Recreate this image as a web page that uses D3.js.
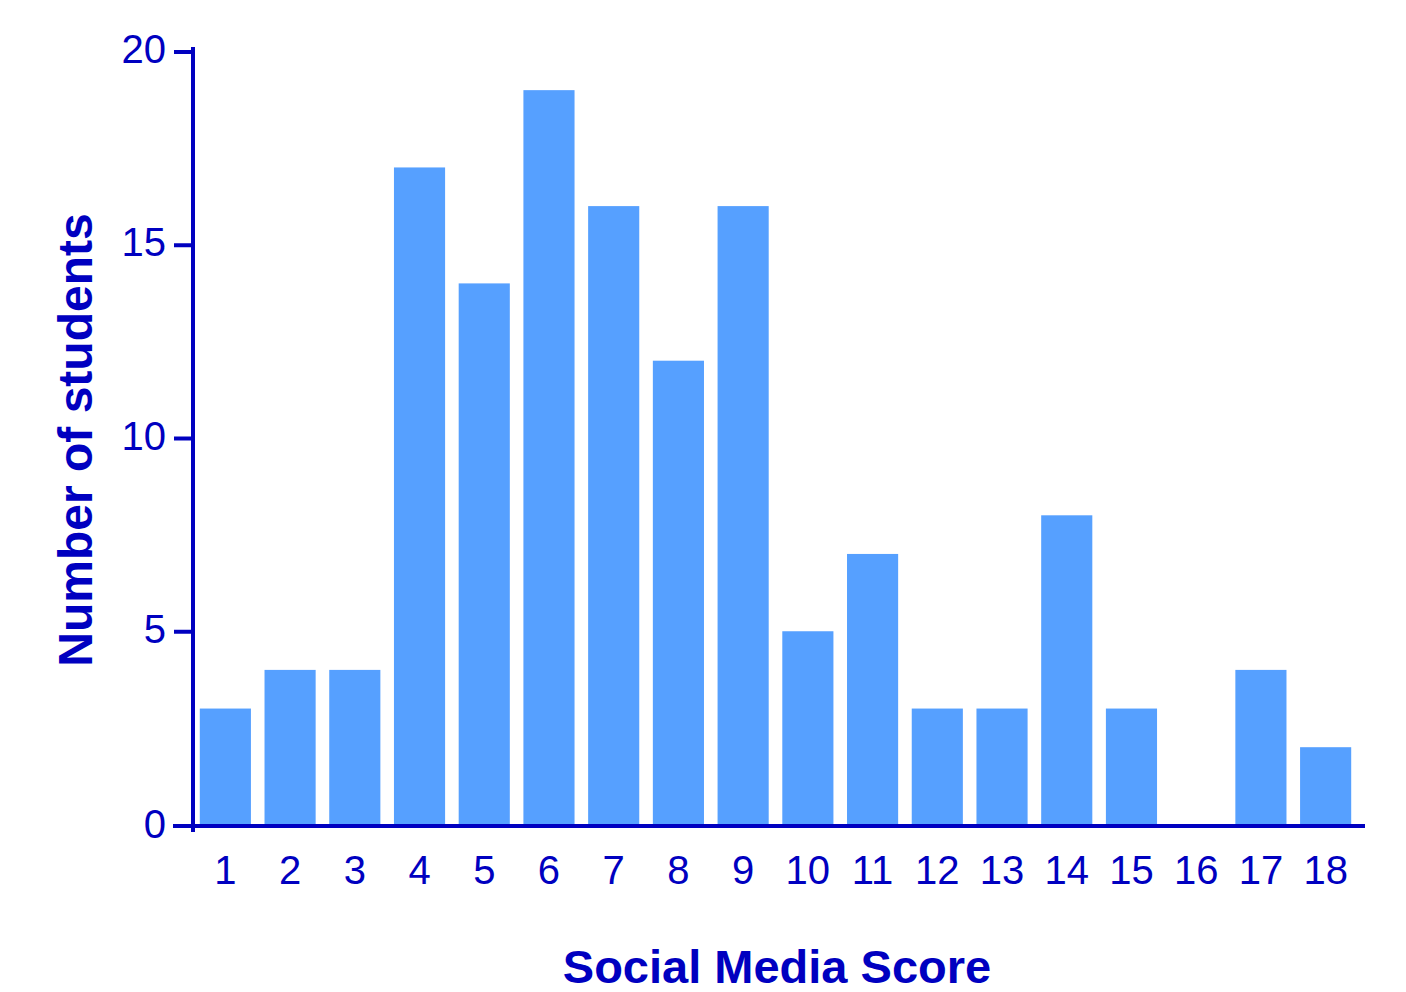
<!DOCTYPE html>
<html>
<head>
<meta charset="utf-8">
<script src="https://cdn.jsdelivr.net/npm/d3@7"></script>
<style>
  html, body { margin: 0; padding: 0; background: #fff; }
  svg { display: block; }
</style>
</head>
<body>
<svg id="chart" width="1406" height="992"></svg>
<script>
const categories = ["1","2","3","4","5","6","7","8","9","10","11","12","13","14","15","16","17","18"];
const counts = [3, 4, 4, 17, 14, 19, 16, 12, 16, 5, 7, 3, 3, 8, 3, 0, 4, 2];
const yTicks = [0, 5, 10, 15, 20];
const xTitle = "Social Media Score";
const yTitle = "Number of students";

const axisColor = "#0000C0";
const barColor = "#56A0FF";
const font = "Liberation Sans, Arial, sans-serif";

const svg = d3.select("#chart");

const x = d3.scaleBand()
  .domain(categories)
  .range([193, 1358])
  .paddingInner(0.21)
  .paddingOuter(0.105);

const y = d3.scaleLinear().domain([0, 20]).range([824.5, 51.5]);

// bars
svg.append("g").selectAll("rect")
  .data(categories.map((c, i) => ({ c, v: counts[i] })))
  .join("rect")
  .attr("x", d => x(d.c))
  .attr("width", x.bandwidth())
  .attr("y", d => y(d.v))
  .attr("height", d => y(0) - y(d.v))
  .attr("fill", barColor);

// y axis
const yAxis = d3.axisLeft(y).tickValues(yTicks.filter(t => t > 0)).tickSize(19).tickPadding(8).tickFormat(d3.format("d"));
const gy = svg.append("g").attr("transform", "translate(193,0)").call(yAxis);
gy.select(".domain").remove();
gy.selectAll(".tick line").attr("stroke", axisColor).attr("stroke-width", 4);
gy.selectAll(".tick text")
  .attr("fill", axisColor)
  .attr("font-family", font)
  .attr("font-size", 40)
  .attr("dy", "0.28em");
// y zero label (the x axis line itself acts as its tick)
gy.append("text")
  .attr("x", -27).attr("y", y(0))
  .attr("dy", "0.34em")
  .attr("text-anchor", "end")
  .attr("fill", axisColor)
  .attr("font-family", font)
  .attr("font-size", 40)
  .text(yTicks[0]);

svg.append("line")
  .attr("x1", 193).attr("x2", 193)
  .attr("y1", 47).attr("y2", 832)
  .attr("stroke", axisColor).attr("stroke-width", 4);

// x axis
const xAxis = d3.axisBottom(x).tickSize(0).tickPadding(30);
const gx = svg.append("g").attr("transform", "translate(0,826)").call(xAxis);
gx.select(".domain").remove();
gx.selectAll(".tick text")
  .attr("fill", axisColor)
  .attr("font-family", font)
  .attr("font-size", 40);

svg.append("line")
  .attr("x1", 173).attr("x2", 1365)
  .attr("y1", 826).attr("y2", 826)
  .attr("stroke", axisColor).attr("stroke-width", 4);

// titles
svg.append("text")
  .attr("x", 777).attr("y", 983)
  .attr("text-anchor", "middle")
  .attr("fill", axisColor)
  .attr("font-family", font)
  .attr("font-weight", "bold")
  .attr("font-size", 47)
  .text(xTitle);

svg.append("text")
  .attr("transform", "translate(92,440) rotate(-90)")
  .attr("text-anchor", "middle")
  .attr("fill", axisColor)
  .attr("font-family", font)
  .attr("font-weight", "bold")
  .attr("font-size", 48)
  .text(yTitle);
</script>
</body>
</html>
